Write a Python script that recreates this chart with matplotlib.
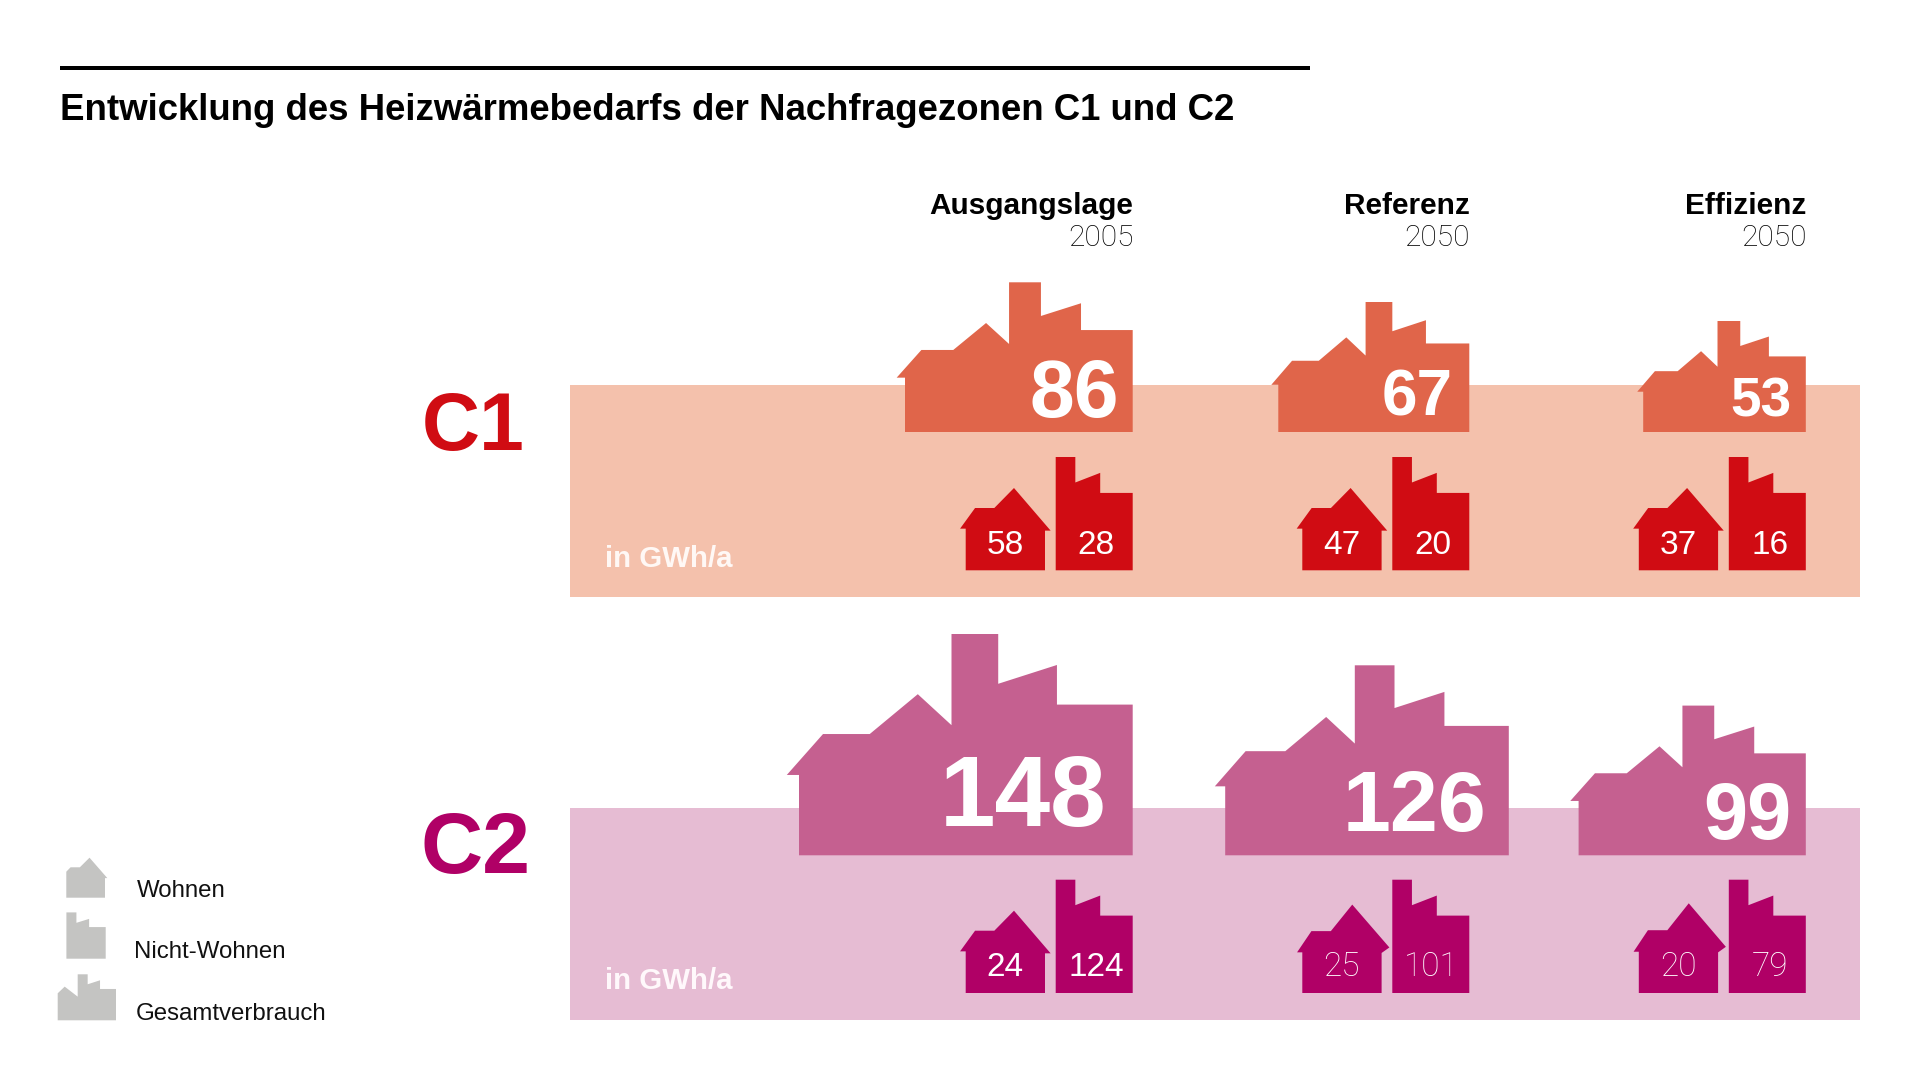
import matplotlib
matplotlib.use("Agg")
import matplotlib.pyplot as plt
from matplotlib.patches import Polygon, Rectangle

plt.rcParams['font.family'] = ['Liberation Sans', 'DejaVu Sans']

# ---- data ----
title = "Entwicklung des Heizwärmebedarfs der Nachfragezonen C1 und C2"
scenarios = ["Ausgangslage", "Referenz", "Effizienz"]
years = ["2005", "2050", "2050"]
zones = ["C1", "C2"]
unit = "in GWh/a"
c1_total = [86, 67, 53]
c1_wohnen = [58, 47, 37]
c1_nicht_wohnen = [28, 20, 16]
c2_total = [148, 126, 99]
c2_wohnen = [24, 25, 20]
c2_nicht_wohnen = [124, 101, 79]
legend_labels = ["Wohnen", "Nicht-Wohnen", "Gesamtverbrauch"]

# ---- icon outlines (unit square; u measured from the right edge, v upward) ----
TOTAL = [(1, 0), (1, .363), (1.0366, .363), (.928, .548), (.788, .548), (.644, .728), (.543, .588),
         (.543, 1), (.403, 1), (.403, .775), (.227, .860), (.227, .681), (0, .681), (0, 0)]
FACTORY = [(1, 0), (1, 1), (.745, 1), (.745, .775), (.422, .86), (.422, .683), (0, .683), (0, 0)]
HOUSE_A = [(1, 0), (1, .506), (1.071, .506), (.882, .757), (.639, .757), (.391, 1), (-.071, .482), (0, .482), (0, 0)]
HOUSE_B = [(1, 0), (1, .46), (1.066, .46), (.885, .70), (.64, .70), (.37, 1), (-.098, .515), (0, .453), (0, 0)]
LEG_HOUSE = [(1, 0), (1, .65), (.89, .76), (.65, .76), (.40, 1), (-.06, .49), (0, .49), (0, 0)]
LEG_TOTAL = [(1, 0), (1, .587), (.88, .732), (.657, .514), (.657, 1), (.486, 1), (.486, .783),
             (.274, .87), (.274, .681), (0, .681), (0, 0)]

# ---- layout, in reference pixels ----
W, H = 1920, 1080
col_right = [1132.7, 1469.3, 1805.8]
total_right = [[1132.7, 1469.3, 1805.8], [1132.7, 1508.8, 1805.8]]
panel_x = (570, 1860)
panels = [(384.7, 597), (808, 1020)]
total_base = [432, 855.3]
small_base = [570.3, 993]
total_w = [[227.7, 191, 162.6], [333.7, 283.6, 227.2]]
total_h = [[149.7, 130, 111], [221.3, 190, 149.7]]
house_w = 79.3
house_h = [[82.3, 82.3, 82.3], [82.3, 88.4, 89.7]]
house_tpl = [[HOUSE_A] * 3, [HOUSE_A, HOUSE_B, HOUSE_B]]
fact_w, fact_h = 77, 113.3
house_gap_right = 87.7
total_fs = [[58, 46, 39.5], [72, 62, 57]]
total_tx = [[1119, 1452.2, 1791], [1106, 1486.5, 1792]]
total_ty = [[416.5, 416, 416.5], [826, 831, 838.5]]
house_tx = [[1005.3, 1341.8, 1678], [1005, 1341.8, 1678.5]]
fact_tx = [[1095.8, 1432.6, 1770], [1096.7, 1431, 1770]]
small_ty_off = -16.5
small_light = [[False] * 3, [False, True, True]]
zone_fs = [58, 62]
zone_xy = [(422, 449.7), (421, 872.5)]
unit_xy = [(605, 566.7), (605, 989.0)]

C = {"panel": ["#F4C1AC", "#E6BCD3"], "total": ["#E0654A", "#C56090"],
     "small": ["#D00C13", "#B00066"], "zone": ["#D00C13", "#B00066"],
     "unit": ["#FFF8F5", "#FFF8FB"], "gray": "#C4C4C2"}
LIGHT = dict(family="Roboto", fontweight="light")

fig = plt.figure(figsize=(19.2, 10.8), dpi=100, facecolor="white")
ax = fig.add_axes([0, 0, 1, 1])
ax.set_xlim(0, W)
ax.set_ylim(H, 0)
ax.axis("off")


def icon(tpl, right, base, w, h, color, z=3):
    pts = [(right - u * w, base - v * h) for u, v in tpl]
    ax.add_patch(Polygon(pts, closed=True, facecolor=color, edgecolor="none", zorder=z))


# header
ax.add_patch(Rectangle((60, 66), 1250, 4, facecolor="black", edgecolor="none"))
ax.text(60, 120.2, title, fontsize=26.35, fontweight="bold", color="black", ha="left", va="baseline")

for i, (s, y) in enumerate(zip(scenarios, years)):
    ax.text(col_right[i] + 0.8, 214.5, s, fontsize=21.4, fontweight="bold", ha="right", va="baseline", color="black")
    ax.text(col_right[i] + 0.8, 245.5, y, fontsize=21.5, ha="right", va="baseline", color="black", **LIGHT)

totals = [c1_total, c2_total]
wohnen = [c1_wohnen, c2_wohnen]
nicht = [c1_nicht_wohnen, c2_nicht_wohnen]

for z, zone in enumerate(zones):
    top, bottom = panels[z]
    ax.add_patch(Rectangle((panel_x[0], top), panel_x[1] - panel_x[0], bottom - top,
                           facecolor=C["panel"][z], edgecolor="none", zorder=1))
    ax.text(*zone_xy[z], zone, fontsize=zone_fs[z], fontweight="bold", color=C["zone"][z],
            ha="left", va="baseline")
    ax.text(*unit_xy[z], unit, fontsize=21.2, fontweight="bold", color=C["unit"][z],
            ha="left", va="baseline", zorder=4)
    for c in range(3):
        r = col_right[c]
        icon(TOTAL, total_right[z][c], total_base[z], total_w[z][c], total_h[z][c], C["total"][z])
        ax.text(total_tx[z][c], total_ty[z][c], str(totals[z][c]), fontsize=total_fs[z][c],
                fontweight="bold", color="white", ha="right", va="baseline", zorder=5)
        icon(FACTORY, r, small_base[z], fact_w, fact_h, C["small"][z])
        icon(house_tpl[z][c], r - house_gap_right, small_base[z], house_w, house_h[z][c], C["small"][z])
        ty = small_base[z] + small_ty_off
        kw = LIGHT if small_light[z][c] else {}
        ax.text(house_tx[z][c], ty, str(wohnen[z][c]), fontsize=24, color="white",
                ha="center", va="baseline", zorder=5, **kw)
        ax.text(fact_tx[z][c], ty, str(nicht[z][c]), fontsize=24, color="white",
                ha="center", va="baseline", zorder=5, **kw)

# legend
icon(LEG_HOUSE, 105, 897.7, 38.7, 40, C["gray"])
icon(FACTORY, 105.7, 958.7, 39.3, 46.3, C["gray"])
icon(LEG_TOTAL, 116, 1020.3, 58.3, 46, C["gray"])
for label, x, y in zip(legend_labels, [137, 134.5, 136], [897.3, 958.3, 1020]):
    ax.text(x, y, label, fontsize=17.3, color="#111111", ha="left", va="baseline")

fig.savefig("out.png", dpi=100, facecolor="white")
